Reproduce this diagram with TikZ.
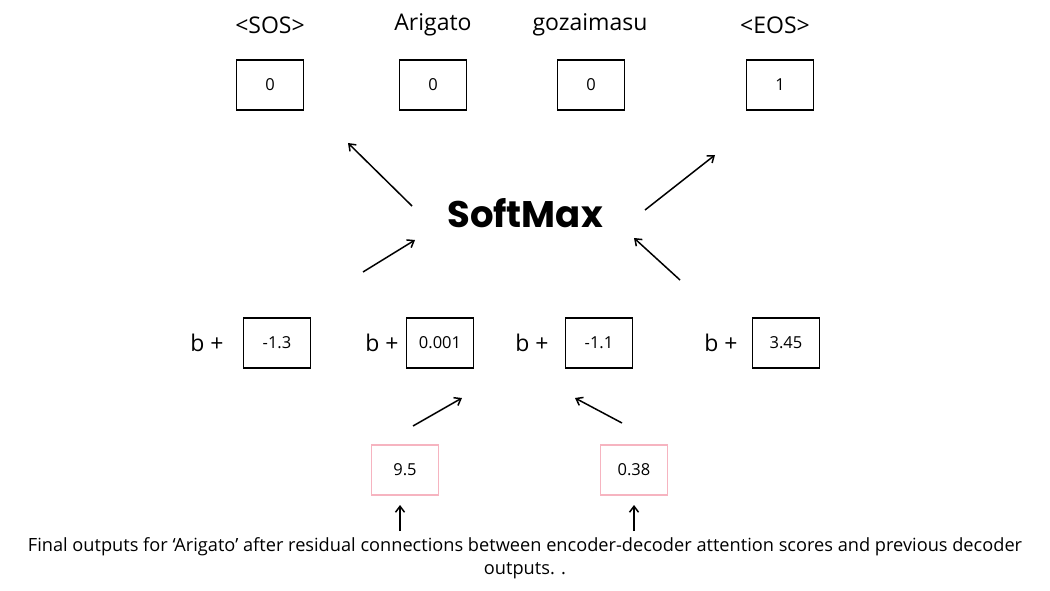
\documentclass[tikz,border=0pt]{standalone}
\usepackage{fontspec}
\setmainfont{Open Sans}
\newfontfamily\softfont{Poppins}
\usetikzlibrary{arrows.meta}
\definecolor{respink}{RGB}{246,180,192}

\tikzset{
	word/.style={font=\fontsize{23}{27}\selectfont},
	valbox/.style={draw, line width=1.5pt, minimum width=67pt, minimum height=50pt, font=\fontsize{16.5}{19}\selectfont},
	resbox/.style={valbox, draw=respink, line width=1.5pt},
	bplus/.style={font=\fontsize{23}{27}\selectfont},
	arr/.style={line width=1.5pt, -{Straight Barb[length=6pt,width=9pt]}}
}

\begin{document}
\begin{tikzpicture}[x=1pt, y=-1pt]
	\useasboundingbox (0,0) rectangle (1050,591);
	% top row: tokens and probabilities
	\node[word](sos) at (270,25) {<SOS>};
	\node[word](arigato) at (433,25) {Arigato};
	\node[word](gozai) at (590,25) {gozaimasu};
	\node[word](eos) at (775,25) {<EOS>};
	\node[valbox](p1) at (270,85) {0};
	\node[valbox](p2) at (433,85) {0};
	\node[valbox](p3) at (591,85) {0};
	\node[valbox](p4) at (780,85) {1};
	% softmax
	\node[font=\fontsize{37}{42}\selectfont\softfont\bfseries](softmax) at (525,213) {SoftMax};
	\coordinate (s1a) at (412,206); \coordinate (s1b) at (348,143);
	\coordinate (s2a) at (645,210); \coordinate (s2b) at (715,155);
	\coordinate (s3a) at (363,272); \coordinate (s3b) at (415,240);
	\coordinate (s4a) at (680,280); \coordinate (s4b) at (634,238);
	\draw[arr] (s1a) -- (s1b);
	\draw[arr] (s2a) -- (s2b);
	\draw[arr] (s3a) -- (s3b);
	\draw[arr] (s4a) -- (s4b);
	% logits
	\node[bplus](b1) at (207,343) {b +};
	\node[valbox](l1) at (277,343) {-1.3};
	\node[bplus](b2) at (382,343) {b +};
	\node[valbox](l2) at (440,343) {0.001};
	\node[bplus](b3) at (532,343) {b +};
	\node[valbox](l3) at (599,343) {-1.1};
	\node[bplus](b4) at (721,343) {b +};
	\node[valbox](l4) at (786,343) {3.45};
	% residual outputs
	\node[resbox](r1) at (405,470) {9.5};
	\node[resbox](r2) at (634,470) {0.38};
	\coordinate (r1a) at (413,426); \coordinate (r1b) at (462,398);
	\coordinate (r2a) at (622,423); \coordinate (r2b) at (575,398);
	\draw[arr] (r1a) -- (r1b);
	\draw[arr] (r2a) -- (r2b);
	\coordinate (u1a) at (400,531); \coordinate (u1b) at (400,505);
	\coordinate (u2a) at (634,531); \coordinate (u2b) at (634,505);
	\draw[arr] (u1a) -- (u1b);
	\draw[arr] (u2a) -- (u2b);
	\node[align=center, font=\fontsize{18.2}{23}\selectfont](caption) at (525,558) {Final outputs for ‘Arigato’ after residual connections between encoder-decoder attention scores and previous decoder\\outputs. .};
\end{tikzpicture}
\end{document}
